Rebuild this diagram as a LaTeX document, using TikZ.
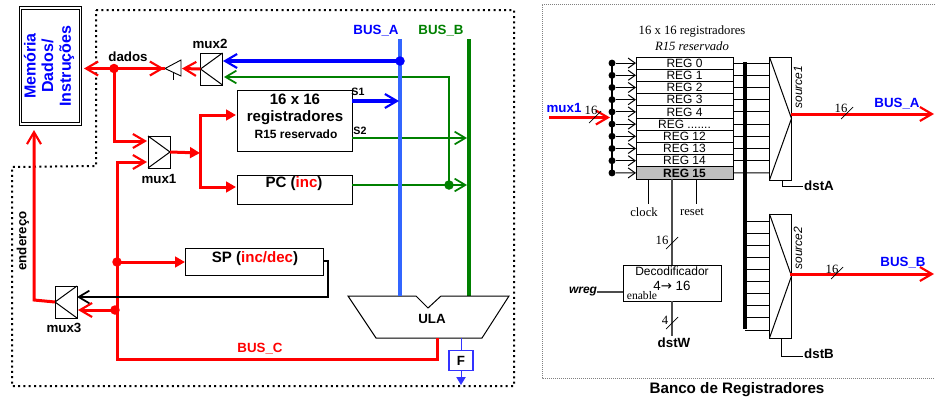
\documentclass[tikz,border=0pt]{standalone}
\usepackage{fontspec}
\setmainfont{Liberation Sans}
\newfontfamily\serifx{Liberation Serif}
\newfontfamily\arrowfont{DejaVu Sans}
\usetikzlibrary{arrows.meta}
\newdimen\px \px=0.75pt
\definecolor{busa}{RGB}{51,102,255}
\definecolor{blu}{RGB}{0,0,255}
\definecolor{grn}{RGB}{0,128,0}
\definecolor{rd}{RGB}{255,0,0}
\definecolor{fblue}{RGB}{51,51,255}
\tikzset{
 bx/.style={draw=black,line width=1\px,fill=white,inner sep=0pt,outer sep=0pt},
 muxbox/.style={bx,minimum width=22\px,minimum height=32\px},
 muxline/.style={line width=1\px,line join=miter},
 lbl/.style={font=\fontsize{10}{11}\selectfont\bfseries,inner sep=0pt},
 big/.style={font=\fontsize{11.3}{13}\selectfont\bfseries,inner sep=0pt},
 serif/.style={font=\fontsize{9.5}{11}\selectfont\serifx,inner sep=0pt},
 open/.style={-{Straight Barb[length=9pt,width=10.5pt,line width=1.6pt]}},
 opent/.style={-{Straight Barb[length=8pt,width=9.5pt,line width=1.3pt]}},
 opens/.style={-{Straight Barb[length=5.25pt,width=7.5pt,line width=.75pt]}},
 solid tip/.style={-{Triangle[length=7.5pt,width=8pt]}},
 redw/.style={rd,line width=3\px},
 greenw/.style={grn,line width=2\px},
 bluew/.style={blu,line width=4\px},
 dot/.style={circle,fill=#1,inner sep=0pt,minimum size=9.5\px,draw=none},
 bdot/.style={circle,fill=black,inner sep=0pt,minimum size=7\px,draw=none},
 rowbox/.style={draw=black,line width=1\px,minimum width=97\px,minimum height=12.2\px,inner sep=0pt,outer sep=0pt,fill=white,font=\fontsize{9}{10}\selectfont},
 wirek/.style={black,line width=1\px},
 slash/.style={black,line width=.7\px},
 smallbold/.style={font=\fontsize{8}{9}\selectfont\bfseries,inner sep=0pt},
 ital/.style={font=\fontsize{9}{10}\selectfont\itshape,rotate=90,inner sep=0pt},
 sans/.style={inner sep=0pt,font=\fontsize{9}{10}\selectfont},
 darkwire/.style={black!70,line width=1.4\px},
}
\begin{document}
\begin{tikzpicture}[x=0.75pt,y=-0.75pt,line cap=butt]
\useasboundingbox (0,0) rectangle (935,400);
% outer dotted borders
\draw[line width=2\px,dash pattern=on 2\px off 3.3\px]
  (96,10) -- (514,10) -- (514,386) -- (12,386) -- (12,167) -- (96,166) -- cycle;
\draw[gray,line width=.6\px,dash pattern=on 1\px off 1\px] (935,4) -- (542,4) -- (542,378) -- (935,378);
% memory
\node[draw=black,line width=1\px,minimum width=60\px,minimum height=116\px,inner sep=0pt,outer sep=0pt,double=white,double distance=1.4\px] (mem) at (50.5,66) {};
\node[rotate=90,align=center,text=blu,font=\fontsize{12}{13.2}\selectfont\bfseries,inner sep=0pt] at (49,66) {Memória\\Dados/\\Instruções};
% buses
\coordinate (atop) at (400,39); \coordinate (abot) at (400,296);
\coordinate (btop) at (469,39); \coordinate (bbot) at (469,296);
\draw[grn,line width=4\px] (btop) -- (bbot);
\node[lbl,text=blu] at (376,31) {BUS\_A};
\node[lbl,text=grn] at (441,31) {BUS\_B};
% mux nodes
\node[muxbox] (mux2) at (211.5,69) {};
\draw[muxline] (mux2.north east) -- (mux2.west) -- (mux2.south east);
\node[lbl] at (210,44) {mux2};
\node[muxbox] (mux1) at (159,152) {};
\draw[muxline] (mux1.north west) -- (mux1.east) -- (mux1.south west);
\node[lbl] at (159,179) {mux1};
\node[muxbox] (mux3) at (66,302) {};
\draw[muxline] (mux3.north east) -- (mux3.west) -- (mux3.south east);
\node[lbl] at (64,328) {mux3};
% tristate
\coordinate (trit) at (165,68.5); \coordinate (trib) at (181,68.5);
\draw[line width=.9\px] (181,60) -- (trit) -- (181,76) -- cycle;
\draw[line width=.7\px] (173,72) -- (173,80);
% boxes
\node[bx,minimum width=115\px,minimum height=61\px,align=center] (regs) at (294.5,120.5) {};
\node[align=center,inner sep=0pt,font=\fontsize{11.3}{12.7}\selectfont\bfseries] at (295,109.5) {16 x 16\\registradores};
\node[inner sep=0pt,font=\fontsize{9}{10}\selectfont\bfseries] at (296,134) {R15 reservado};
\node[bx,minimum width=115\px,minimum height=29\px] (pc) at (294.5,189.5) {};
\node[big] at (294,184) {PC (\textcolor{rd}{inc})};
\node[bx,minimum width=138\px,minimum height=27\px] (sp) at (254,262) {};
\node[big] at (255,258.5) {SP (\textcolor{rd}{inc/dec})};
\node[smallbold] at (358,92) {S1};
\node[smallbold] at (360,131) {S2};
% ULA
\draw[line width=1\px,fill=white] (348,296) -- (416,296) -- (428,308) -- (441,296) -- (509,296) -- (482,338) -- (376,338) -- cycle;
\node[lbl,font=\fontsize{10}{11}\selectfont\bfseries] (ula) at (432,319) {ULA};
\coordinate (ulac) at (437,338); \coordinate (ulaf) at (461,338);
\node[draw=fblue,line width=1.2\px,fill=white,minimum width=24\px,minimum height=20\px,inner sep=0pt,outer sep=0pt,font=\fontsize{10}{11}\selectfont\bfseries] (f) at (461,360.5) {F};
\coordinate (fout) at (461,385);
\draw[fblue,line width=1\px] (ulaf) -- (f.north);
\draw[fblue,line width=1\px,-{Triangle[length=6pt,width=7pt]}] (f.south) -- (fout);
% green wiring, beneath the blue bus
\coordinate (ja) at (400,61);
\coordinate (jb) at (449,185);
\draw[greenw,opent] (jb) -- (449,77) -- (224,77);
\draw[greenw,opent] (352,138) -- (467,138);
\draw[greenw,opent] (352,185) -- (467,185);
\node[dot=grn] at (jb) {};
\draw[busa,line width=4\px] (atop) -- (abot);
% blue wiring
\draw[bluew,open] (ja) -- (223,61);
\node[dot=blu] at (ja) {};
\draw[bluew,open] (352,101) -- (399,101);
% red wiring
\coordinate (jd) at (114,68.5);
\draw[redw,open] (trit) -- (84,68.5);
\draw[redw,open] (jd) -- (164,68.5);
\draw[redw,open] (mux2.west) -- (182,68.5);
\draw[redw,open] (jd) |- (147,141);
\node[dot=rd] at (jd) {};
\node[lbl] at (128,57) {dados};
\coordinate (jv) at (200,153);
\draw[redw,solid tip] (mux1.east) -- (jv);
\draw[redw,solid tip] (jv) |- (236,115);
\draw[redw,solid tip] (jv) |- (236,187);
\coordinate (js) at (117,262); \coordinate (jm) at (115,310);
\draw[redw,open] (ulac) |- (117,359) -- (117,162) -- (147,162);
\draw[redw,solid tip] (js) -- (sp.west |- js);
\node[dot=rd] at (js) {};
\draw[redw,open] (jm) -- (78,310);
\node[dot=rd] at (jm) {};
\draw[black,line width=2.5\px,opent,line join=miter] (sp.east |- 0,261) -- (328,261) -- (328,297) -- (77,297);
\draw[redw,open] (mux3.west) -- (34,300) -- (34,130);
\node[lbl,rotate=90] at (23,241) {endereço};
\node[lbl,text=rd] at (260,349) {BUS\_C};

% ---- register bank ----
\node[serif] at (692,31) {16 x 16 registradores};
\node[serif,font=\fontsize{9.5}{11}\selectfont\serifx\itshape] at (692,46) {R15 reservado};
\coordinate (wtop) at (612,62.5);
\coordinate (wbot) at (612,173);
\draw[wirek,line width=1.4\px] (wtop) -- (wbot);
\foreach \i/\t [count=\n from 0] in {0/REG 0,1/REG 1,2/REG 2,3/REG 3,4/REG 4,5/{REG .......},6/REG 12,7/REG 13,8/REG 14}{
  \node[rowbox] (r\i) at (684.5,{63.1+12.2*\n}) {\t};
}
\node[rowbox,fill=black!25,font=\fontsize{9}{10}\selectfont\bfseries] (r9) at (684.5,172.9) {REG 15};
\foreach \i in {0,...,9}{
  \node[bdot] (d\i) at (612,{63.1+12.2*\i}) {};
  \draw[wirek,opens] (d\i) -- (r\i.west);
  \draw[wirek] (r\i.east) -- (769,{63.1+12.2*\i});
}
\node[lbl,text=blu] at (564,108) {mux1};
\coordinate (m1) at (549,117.5); \coordinate (m1e) at (610,117.5);
\draw[redw,open] (m1) -- (m1e);
\node[serif] at (591,110) {16};
\draw[slash] (589,123) -- (601,111);
% thick bus
\coordinate (tt) at (745,62); \coordinate (tb) at (745,329);
\draw[black,line width=4\px] (tt) -- (tb);
% source1
\node[muxbox,minimum height=123\px] (s1) at (780.5,118.5) {};
\draw[muxline] (s1.north west) -- (s1.east) -- (s1.south west);
\node[ital] at (798,87) {source1};
\coordinate (ba) at (934,114);
\draw[redw,open] (791,114) -- (ba);
\node[lbl,text=blu] at (897,104) {BUS\_A};
\node[serif] at (841,108) {16};
\draw[slash] (841,119) -- (853,107);
\coordinate (dsta) at (803,186);
\draw[wirek] (782,180) |- (dsta);
\node[lbl] at (819,186) {dstA};
% source2
\node[muxbox,minimum height=124\px] (s2) at (780.5,276) {};
\draw[muxline] (s2.north west) -- (s2.east) -- (s2.south west);
\foreach \y in {221,233.1,245.2,257.3,269.4,281.5,293.6,305.7,317.8,330}{
  \draw[wirek] (745,\y) -- (769,\y);
}
\node[ital] at (798,248) {source2};
\coordinate (bb) at (934,274);
\draw[redw,open] (790,274) -- (bb);
\node[lbl,text=blu] at (903,263) {BUS\_B};
\node[serif] at (832,269) {16};
\draw[slash] (831,279) -- (843,267);
\coordinate (dstb) at (803,356);
\draw[wirek] (781,338) |- (dstb);
\node[lbl] at (819,354) {dstB};
% clock, reset, decoder
\node[draw=black,line width=1\px,minimum width=98\px,minimum height=36\px,inner sep=0pt,outer sep=0pt] (dec) at (672,283) {};
\node[sans] at (672,271) {Decodificador};
\node[inner sep=0pt,font=\fontsize{10}{11}\selectfont] at (672,286) {4{\arrowfont\char"2192}\ 16};
\node[serif,font=\fontsize{8.7}{10}\selectfont\serifx] at (642,296) {enable};
\coordinate (clk) at (648,204); \coordinate (rst) at (696,204);
\draw[wirek] (648,179) -- (clk);
\draw[wirek] (696,179) -- (rst);
\draw[darkwire] (672,179) -- (dec.north);
\node[serif] at (644,212) {clock};
\node[serif] at (692,212) {reset};
\node[serif] at (662,240) {16};
\draw[slash] (666,249) -- (678,237);
\node[lbl,font=\fontsize{9}{10}\selectfont\bfseries\itshape] (wreg) at (583,292) {wreg};
\draw[darkwire] (wreg.east) -- (dec.west |- wreg);
\node[lbl] (dstw) at (674,343) {dstW};
\draw[darkwire] (dec.south) -- (672,336);
\node[serif] at (665,320) {4};
\draw[slash] (666,329) -- (678,317);
\node[lbl,font=\fontsize{11.4}{12}\selectfont\bfseries] at (737,390) {Banco de Registradores};
\end{tikzpicture}
\end{document}
